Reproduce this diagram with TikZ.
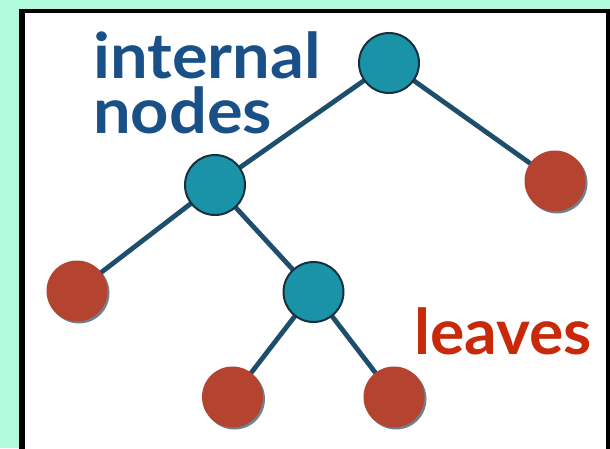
\documentclass[tikz,border=0pt]{standalone}
\usepackage{fontspec}
\setmainfont{Lato}
\usetikzlibrary{shadows}
\definecolor{mint}{HTML}{B2FADC}
\definecolor{tealnode}{HTML}{1A93A8}
\definecolor{nodeedge}{HTML}{16303C}
\definecolor{edgeblue}{HTML}{1E4E6E}
\definecolor{leafred}{HTML}{B4432F}
\definecolor{textblue}{HTML}{1A5088}
\definecolor{textred}{HTML}{C8290A}
\tikzset{
  inner/.style={circle, minimum size=60pt, inner sep=0pt, fill=tealnode, draw=nodeedge, line width=2pt},
  leaf/.style={circle, minimum size=61pt, inner sep=0pt, fill=leafred,
    drop shadow={shadow xshift=2pt, shadow yshift=-2pt, opacity=0.6, fill=edgeblue!60!black}},
  link/.style={draw=edgeblue, line width=4.8pt},
  lbl/.style={inner sep=0pt, font=\fontsize{63}{55}\selectfont\bfseries}
}
\begin{document}
\begin{tikzpicture}[x=1pt, y=-1pt]
\useasboundingbox (0,0) rectangle (610,448);
\fill[mint] (0,0) rectangle (610,448);
\fill[black] (19,9) rectangle (616,460);
\fill[white] (25,13) rectangle (606,460);
\coordinate (c-root) at (389,63);
\coordinate (c-mid) at (215,185);
\coordinate (c-low) at (313.5,292);
\coordinate (c-lr) at (555,181);
\coordinate (c-ll) at (77,291);
\coordinate (c-lb1) at (232.5,397);
\coordinate (c-lb2) at (394,397);
\path[link] (c-root) -- (c-mid) (c-root) -- (c-lr) (c-mid) -- (c-ll) (c-mid) -- (c-low) (c-low) -- (c-lb1) (c-low) -- (c-lb2);
\node[inner] (root) at (c-root) {};
\node[inner] (mid) at (c-mid) {};
\node[inner] (low) at (c-low) {};
\node[leaf] (lr) at (c-lr) {};
\node[leaf] (ll) at (c-ll) {};
\node[leaf] (lb1) at (c-lb1) {};
\node[leaf] (lb2) at (c-lb2) {};
\node[lbl, text=textblue, align=left, anchor=base west, xscale=1.06] (t1) at (93,133) {internal\\nodes};
\node[lbl, text=textred, anchor=base west, xscale=1.02] (t3) at (414,354) {leaves};
\end{tikzpicture}
\end{document}
